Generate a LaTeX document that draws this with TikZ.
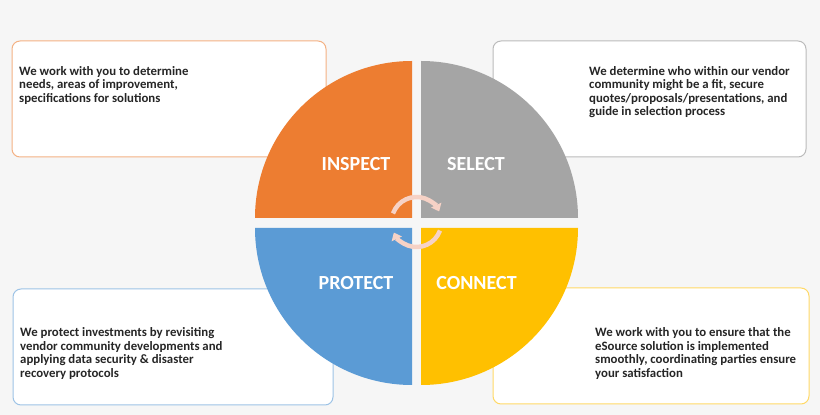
\documentclass[tikz,border=0pt]{standalone}
\usepackage{fontspec}
\setmainfont{Carlito}
\usetikzlibrary{arrows.meta}
\definecolor{pagebg}{HTML}{F6F6F6}
\definecolor{inspectcol}{HTML}{ED7D31}
\definecolor{selectcol}{HTML}{A5A5A5}
\definecolor{protectcol}{HTML}{5B9BD5}
\definecolor{connectcol}{HTML}{FFC000}
\definecolor{cyclecol}{HTML}{F6D2C6}

\begin{document}
\begin{tikzpicture}[x=1pt,y=1pt,
	infobox/.style={draw,rounded corners=8pt,fill=white,line width=1pt,minimum height=116pt,inner sep=0},
	infotext/.style={anchor=north west,align=left,inner sep=0,text=black!85,font=\bfseries\fontsize{12.8}{13.6}\selectfont},
	quadlabel/.style={inner sep=0,text=white,font=\bfseries\fontsize{20}{24}\selectfont},
	cyclearrow/.style={draw=cyclecol,line width=4.5pt,-{Triangle[width=11pt,length=7pt]}}]
	\fill[pagebg] (0,0) rectangle (820,415);
	\node[infobox,draw=inspectcol!60,minimum width=314pt] (inspectbox) at (169,316) {};
	\node[infobox,draw=selectcol!75,minimum width=313pt] (selectbox) at (649.5,316) {};
	\node[infobox,draw=protectcol!60,minimum width=320pt] (protectbox) at (173,68) {};
	\node[infobox,draw=connectcol!60,minimum width=316pt] (connectbox) at (651,69) {};
	\fill[inspectcol] (412,197) -- ++(-157,0) arc[start angle=180,end angle=90,radius=157] -- cycle;
	\fill[selectcol] (421,197) -- ++(0,157) arc[start angle=90,end angle=0,radius=157] -- cycle;
	\fill[protectcol] (412,187) -- ++(0,-157) arc[start angle=270,end angle=180,radius=157] -- cycle;
	\fill[connectcol] (421,187) -- ++(157,0) arc[start angle=0,end angle=-90,radius=157] -- cycle;
	\node[quadlabel] (inspect) at (356,250.7) {INSPECT};
	\node[quadlabel] (select) at (476,250.7) {SELECT};
	\node[quadlabel] (protect) at (356,131.7) {PROTECT};
	\node[quadlabel] (connect) at (476.5,131.7) {CONNECT};
	\coordinate (hub) at (416.5,193);
	\draw[cyclearrow] ([shift={(160:25)}]hub) arc[start angle=160,end angle=25,radius=25];
	\draw[cyclearrow] ([shift={(-20:25)}]hub) arc[start angle=-20,end angle=-155,radius=25];
	\node[infotext] (inspecttext) at (19,349) {We work with you to determine\\needs, areas of improvement,\\specifications for solutions};
	\node[infotext] (selecttext) at (589,349) {We determine who within our vendor\\community might be a fit, secure\\quotes/proposals/presentations, and\\guide in selection process};
	\node[infotext] (protecttext) at (20,87.5) {We protect investments by revisiting\\vendor community developments and\\applying data security \& disaster\\recovery protocols};
	\node[infotext] (connecttext) at (595,87.5) {We work with you to ensure that the\\eSource solution is implemented\\smoothly, coordinating parties ensure\\your satisfaction};
\end{tikzpicture}
\end{document}
